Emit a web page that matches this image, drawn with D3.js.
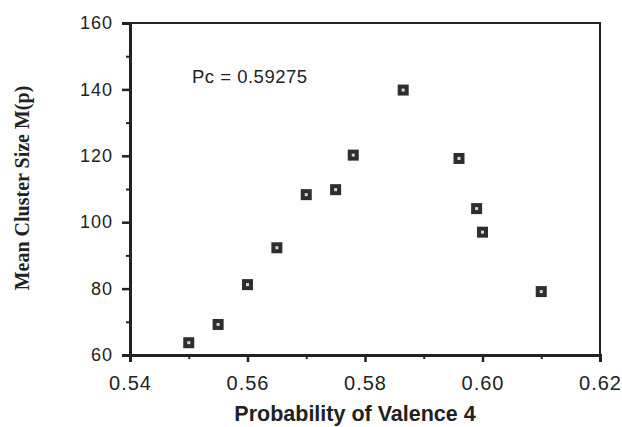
<!DOCTYPE html>
<html>
<head>
<meta charset="utf-8">
<script src="https://cdn.jsdelivr.net/npm/d3@7"></script>
<style>
  body { margin: 0; background: #fff; }
  svg { display: block; }
  .tick text { font-family: "Liberation Sans", Arial, sans-serif; fill: #222; }
</style>
</head>
<body>
<div id="chart"></div>
<script>
// data
const valence = [0.550, 0.555, 0.560, 0.565, 0.570, 0.575, 0.578, 0.5865, 0.596, 0.599, 0.600, 0.610]
const clusterSize = [63.7, 69.2, 81.2, 92.3, 108.3, 109.8, 120.2, 139.8, 119.2, 104.1, 97.0, 79.1]
const xTicks = [0.54, 0.56, 0.58, 0.60, 0.62]
const yTicks = [60, 80, 100, 120, 140, 160]
const xMinor = [0.55, 0.57, 0.59, 0.61]
const yMinor = [70, 90, 110, 130, 150]
const note = 'Pc = 0.59275'

const W = 622, H = 427
const margin = { top: 23, right: 22, bottom: 72, left: 130 }
const width = W - margin.left - margin.right
const height = H - margin.top - margin.bottom
const ink = '#222'

const svg = d3.select('#chart').append('svg')
    .attr('width', W)
    .attr('height', H)

const g = svg.append('g')
    .attr('transform', 'translate(' + margin.left + ',' + margin.top + ')')

const x = d3.scaleLinear().domain([0.54, 0.62]).range([0, width])
const y = d3.scaleLinear().domain([60, 160]).range([height, 0])

// frame
g.append('rect')
    .attr('width', width)
    .attr('height', height)
    .attr('fill', 'none')
    .attr('stroke', ink)
    .attr('stroke-width', 2)

// minor ticks
g.append('g')
    .attr('transform', 'translate(0,' + height + ')')
    .call(d3.axisBottom(x).tickValues(xMinor).tickSize(4).tickFormat(''))
    .call(a => a.select('.domain').remove())
    .call(a => a.selectAll('line').attr('stroke', ink).attr('stroke-width', 2))

g.append('g')
    .call(d3.axisLeft(y).tickValues(yMinor).tickSize(4).tickFormat(''))
    .call(a => a.select('.domain').remove())
    .call(a => a.selectAll('line').attr('stroke', ink).attr('stroke-width', 2))

// major axes
g.append('g')
    .attr('transform', 'translate(0,' + height + ')')
    .call(d3.axisBottom(x).tickValues(xTicks).tickSize(7).tickPadding(14)
        .tickFormat(d3.format('.2f')))
    .call(a => a.select('.domain').attr('stroke', ink).attr('stroke-width', 3))
    .call(a => a.selectAll('line').attr('stroke', ink).attr('stroke-width', 2.5))
    .call(a => a.selectAll('text').attr('font-size', 20).attr('letter-spacing', 1))

g.append('g')
    .call(d3.axisLeft(y).tickValues(yTicks).tickSize(8).tickPadding(9))
    .call(a => a.select('.domain').attr('stroke', ink).attr('stroke-width', 3))
    .call(a => a.selectAll('line').attr('stroke', ink).attr('stroke-width', 2.5))
    .call(a => a.selectAll('text').attr('font-size', 18).attr('letter-spacing', 1))

// points
const pts = g.selectAll('.pt')
    .data(valence.map((v, i) => ({ v, m: clusterSize[i] })))
    .enter().append('g')
    .attr('class', 'pt')
    .attr('transform', d => 'translate(' + x(d.v) + ',' + y(d.m) + ')')

pts.append('rect')
    .attr('x', -5.5).attr('y', -5.5)
    .attr('width', 11).attr('height', 11)
    .attr('fill', '#2e2e2e')

pts.append('rect')
    .attr('x', -1.5).attr('y', -1.5)
    .attr('width', 3).attr('height', 3)
    .attr('fill', '#d8d8d8')

// annotation
g.append('text')
    .attr('x', 192 - margin.left)
    .attr('y', 83 - margin.top)
    .attr('font-family', '"Liberation Sans", Arial, sans-serif')
    .attr('font-size', 18.5)
    .attr('letter-spacing', 0.5)
    .attr('fill', ink)
    .text(note)

// axis titles
svg.append('text')
    .attr('x', 355)
    .attr('y', 421)
    .attr('text-anchor', 'middle')
    .attr('font-family', '"Liberation Sans", Arial, sans-serif')
    .attr('font-weight', 'bold')
    .attr('font-size', 21.5)
    .attr('fill', ink)
    .text('Probability of Valence 4')

svg.append('text')
    .attr('transform', 'translate(29,' + 188 + ') rotate(-90)')
    .attr('text-anchor', 'middle')
    .attr('font-family', '"Liberation Serif", "Times New Roman", serif')
    .attr('font-weight', 'bold')
    .attr('font-size', 20)
    .attr('fill', ink)
    .text('Mean Cluster Size M(p)')
</script>
</body>
</html>
